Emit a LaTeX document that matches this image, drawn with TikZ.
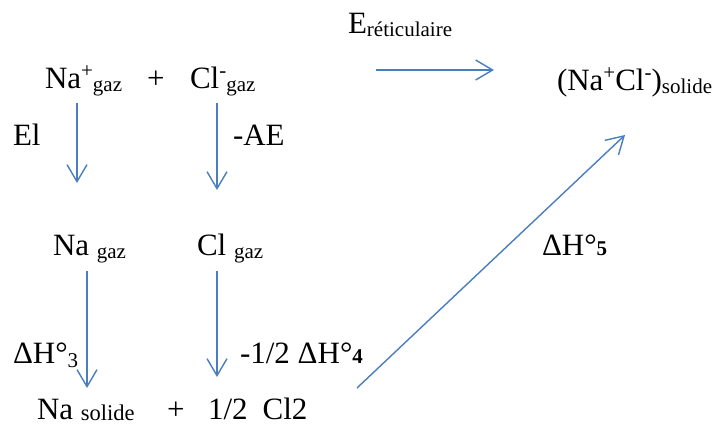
\documentclass[tikz,border=0pt]{standalone}
\usepackage{fontspec}
\setmainfont{Liberation Serif}
\usetikzlibrary{arrows.meta}
\definecolor{arrowblue}{RGB}{74,126,188}
\newcommand{\mysb}[2][3pt]{{\fontsize{21}{21}\selectfont\raisebox{-#1}{#2}}}
\newcommand{\mysbb}[2][2pt]{{\fontsize{22.5}{22}\selectfont\raisebox{-#1}{#2}}}
\newcommand{\mysp}[1]{{\fontsize{21}{21}\selectfont\raisebox{11pt}{#1}}}
\newcommand{\mybd}[1]{{\fontsize{21}{21}\selectfont\bfseries #1}}
\begin{document}
\begin{tikzpicture}[x=1pt,y=-1pt,
  txt/.style={anchor=base west,inner sep=0pt,outer sep=0pt,font=\fontsize{31}{31}\selectfont},
  arr/.style={draw=arrowblue,line width=1.4pt,-{Straight Barb[length=17pt,width=20pt,line width=1.4pt]}}]
\useasboundingbox (0,0) rectangle (717,423);
% texts
\node[txt] (naplus) at (45,88) {Na\mysp{+}\mysb{gaz}};
\node[txt] (plus1) at (147,88) {+};
\node[txt] (clminus) at (190,88) {Cl\mysp{-}\mysb{gaz}};
\node[txt] (eret) at (348,33) {E\mysb{réticulaire}};
\node[txt] (nacl) at (557,90) {(Na\mysp{+}Cl\mysp{-})\mysb{solide}};
\node[txt] (el) at (13,145) {El};
\node[txt] (ae) at (233,145) {-AE};
\node[txt] (nagaz) at (53,255) {Na \mysb{gaz}};
\node[txt] (clgaz) at (197,255) {Cl \mysb{gaz}};
\node[txt] (dh3) at (13,363) {ΔH°\mysb[4pt]{3}};
\node[txt] (dh4) at (240,363) {-1/2 ΔH°\mybd{4}};
\node[txt] (dh5) at (542,255) {ΔH°\mybd{5}};
\node[txt] (nasol) at (37,419) {Na \mysbb[1pt]{solide}};
\node[txt] (plus2) at (167,419) {+};
\node[txt] (halfcl) at (208,419) {1/2\hspace{15pt}Cl2};
% arrow end points
\coordinate (a1s) at (77,103);  \coordinate (a1e) at (77,183);
\coordinate (a2s) at (217,103); \coordinate (a2e) at (217,190);
\coordinate (a3s) at (87,271);  \coordinate (a3e) at (87,388);
\coordinate (a4s) at (217,271); \coordinate (a4e) at (217,377);
\coordinate (hs) at (376,70);   \coordinate (he) at (494,70);
\coordinate (ds) at (357,388);  \coordinate (de) at (625,135);
\draw[arr] (a1s) -- (a1e);
\draw[arr] (a2s) -- (a2e);
\draw[arr] (a3s) -- (a3e);
\draw[arr] (a4s) -- (a4e);
\draw[arr] (hs) -- (he);
\draw[arr] (ds) -- (de);
\end{tikzpicture}
\end{document}
